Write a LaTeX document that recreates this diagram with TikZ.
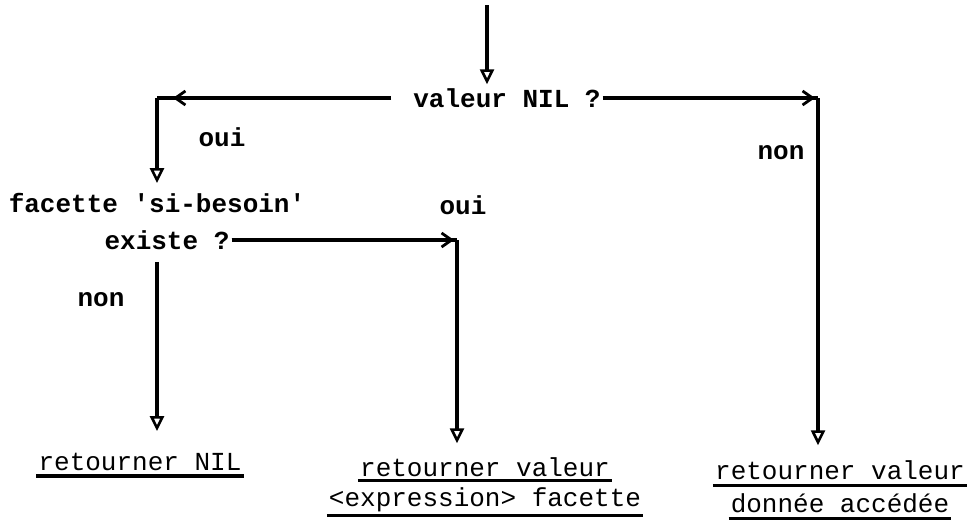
\documentclass[tikz,border=0pt]{standalone}
\usepackage{fontspec}
\setmainfont{Liberation Mono}
\usetikzlibrary{arrows.meta,calc}
\tikzset{
  lbl/.style={font=\fontsize{26}{30}\selectfont\bfseries, inner sep=2pt, anchor=center},
  res/.style={font=\fontsize{26}{30}\selectfont, inner sep=2pt, anchor=center},
  flow/.style={line width=3.4pt},
  down/.style={flow, -{Triangle[open, length=15pt, width=14pt, line width=2.6pt]}},
  side/.style={flow, -{Straight Barb[length=10pt, width=14pt, line width=2.8pt]}},
  uline/.style={line width=3.4pt}
}
\begin{document}
\begin{tikzpicture}[x=1pt,y=-1pt]
\useasboundingbox (0,0) rectangle (973,525);

% questions
\node[lbl] (nil) at (507,98) {valeur NIL ?};
\node[lbl] (fac1) at (157,203) {facette \textquotesingle si-besoin\textquotesingle};
\node[lbl] (fac2) at (167,240) {existe ?};

% branch labels
\node[lbl] (oui1) at (222,137) {oui};
\node[lbl] (non1) at (781,153) {non};
\node[lbl] (oui2) at (463,205) {oui};
\node[lbl] (non2) at (101,300) {non};

% results
\node[res] (r1) at (140,462) {retourner NIL};
\node[res] (r2a) at (485,467) {retourner valeur};
\node[res] (r2b) at (485,500) {<expression> facette};
\node[res] (r3a) at (840,470) {retourner valeur};
\node[res] (r3b) at (840,503) {donnée accédée};

% underlines
\foreach \n/\d in {r1/-3, r2a/-2, r2b/-1, r3a/-4, r3b/-4}
  \draw[uline] ([yshift=\d pt]\n.south west) -- ([yshift=\d pt]\n.south east);

% corner points
\coordinate (start) at (487,5);
\coordinate (cL) at (157,98);
\coordinate (cR) at (818,98);
\coordinate (cM) at (457,240);

% entry
\draw[down] (start) -- ([yshift=2pt]start |- nil.north);

% valeur NIL ? -> oui
\draw[flow] ([xshift=-20pt]nil.west) -- (cL);
\draw[side] ([xshift=-20pt]nil.west) -- ($(cL)+(16,0)$);
\draw[down] (cL) -- ([yshift=8pt]cL |- fac1.north);

% valeur NIL ? -> non
\draw[flow] (nil.east) -- (cR);
\draw[side] (nil.east) -- ($(cR)+(-3,0)$);
\draw[down] (cR) -- ([yshift=13pt]cR |- r3a.north);

% existe ? -> oui
\draw[flow] (fac2.east) -- (cM);
\draw[side] (fac2.east) -- ($(cM)+(-3,0)$);
\draw[down] (cM) -- ([yshift=12pt]cM |- r2a.north);

% existe ? -> non
\draw[down] ([yshift=-10pt]cL |- fac2.south) -- ([yshift=20pt]cL |- r1.north);
\end{tikzpicture}
\end{document}
